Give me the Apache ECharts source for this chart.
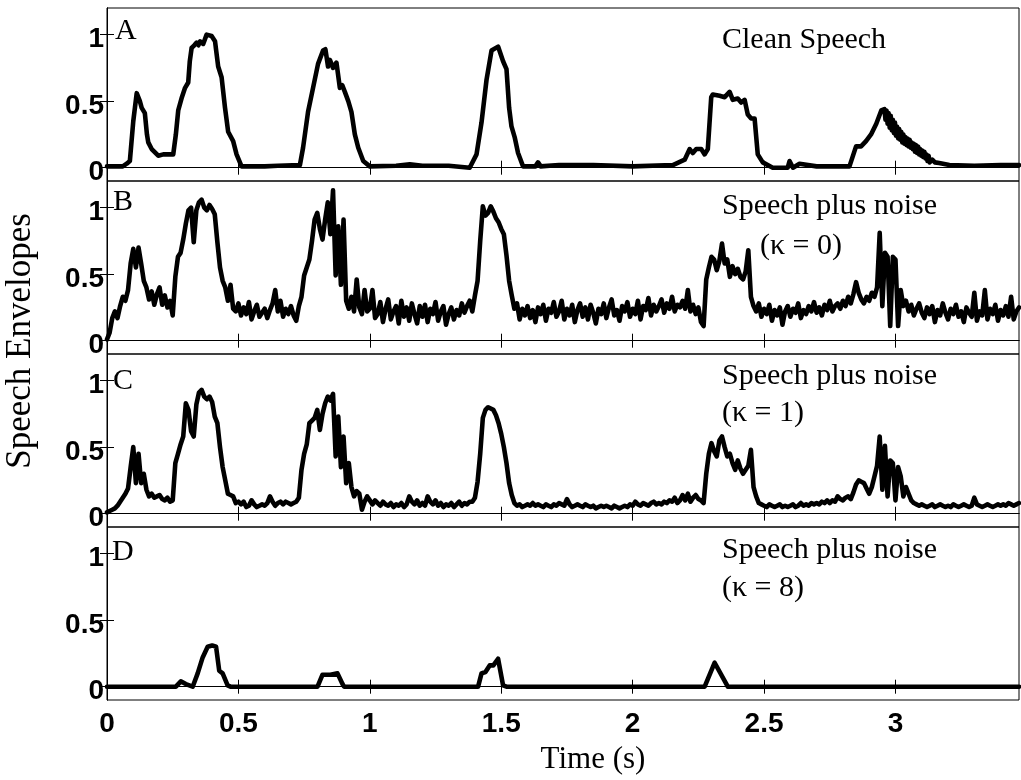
<!DOCTYPE html>
<html>
<head>
<meta charset="utf-8">
<script src="https://cdn.jsdelivr.net/npm/echarts@6/dist/echarts.min.js"></script>
<style>
html,body{margin:0;padding:0;background:#fff;}
#chart{width:1021px;height:780px;}
</style>
</head>
<body>
<div id="chart"></div>
<script>
// ---------- DATA ----------
const xTickValues = [0, 0.5, 1, 1.5, 2, 2.5, 3];
const yTickValues = [0, 0.5, 1];
const panelLetters = ['A', 'B', 'C', 'D'];
const panelTitles = ['Clean Speech', 'Speech plus noise', 'Speech plus noise', 'Speech plus noise'];
const panelSubtitles = ['', '(κ = 0)', '(κ = 1)', '(κ = 8)'];
const xAxisTitle = 'Time (s)';
const yAxisTitle = 'Speech Envelopes';
const sampleStep = 0.01; // seconds per sample for B and C

// Panel A: clean speech envelope (time, value)
const timesA = [
0,0.06,0.075,0.087,0.10,0.113,0.125,0.132,0.144,0.152,
0.157,0.17,0.195,0.214,0.252,0.262,0.271,0.285,0.297,0.309,
0.315,0.322,0.332,0.341,0.348,0.354,0.366,0.379,0.398,0.411,
0.423,0.436,0.449,0.461,0.48,0.493,0.512,0.60,0.65,0.734,
0.746,0.765,0.784,0.803,0.822,0.831,0.841,0.848,0.860,0.873,
0.886,0.895,0.905,0.918,0.930,0.943,0.956,0.975,1.0,1.10,
1.152,1.20,1.30,1.38,1.406,1.425,1.444,1.463,1.488,1.507,
1.520,1.530,1.539,1.551,1.564,1.583,1.63,1.640,1.65,1.72,
1.85,2.0,2.153,2.198,2.217,2.229,2.242,2.261,2.274,2.286,
2.299,2.305,2.331,2.350,2.369,2.381,2.400,2.413,2.426,2.438,
2.451,2.464,2.476,2.495,2.533,2.59,2.597,2.61,2.635,2.70,
2.825,2.850,2.869,2.888,2.907,2.927,2.946,2.958,2.962,2.966,
2.970,2.974,2.978,2.982,2.986,2.990,2.994,2.998,3.002,3.006,
3.010,3.014,3.018,3.022,3.026,3.030,3.034,3.038,3.042,3.046,
3.050,3.054,3.058,3.062,3.066,3.070,3.074,3.078,3.082,3.086,
3.090,3.094,3.098,3.102,3.106,3.110,3.114,3.118,3.122,3.126,
3.130,3.14,3.15,3.166,3.205,3.30,3.40,3.47
];
const valuesA = [
0.01,0.01,0.03,0.05,0.35,0.56,0.50,0.45,0.41,0.25,
0.19,0.14,0.09,0.10,0.10,0.25,0.43,0.53,0.60,0.64,
0.80,0.90,0.92,0.94,0.92,0.95,0.93,1.0,0.99,0.95,
0.76,0.68,0.45,0.27,0.20,0.10,0.01,0.01,0.015,0.02,
0.15,0.42,0.60,0.78,0.88,0.89,0.76,0.81,0.75,0.79,
0.60,0.62,0.57,0.50,0.42,0.25,0.15,0.05,0.01,0.015,
0.025,0.015,0.015,0.0,0.10,0.34,0.66,0.88,0.91,0.80,
0.74,0.45,0.31,0.23,0.11,0.01,0.01,0.04,0.01,0.02,
0.02,0.01,0.02,0.06,0.14,0.11,0.14,0.14,0.10,0.14,
0.53,0.55,0.54,0.53,0.57,0.51,0.52,0.49,0.51,0.40,
0.37,0.37,0.10,0.04,0.0,0.0,0.05,0.0,0.03,0.01,
0.01,0.16,0.16,0.20,0.25,0.33,0.43,0.44,0.36,0.43,
0.33,0.41,0.30,0.39,0.28,0.36,0.26,0.34,0.24,0.31,
0.22,0.29,0.21,0.27,0.19,0.25,0.18,0.23,0.17,0.22,
0.16,0.21,0.15,0.19,0.14,0.18,0.12,0.17,0.11,0.16,
0.10,0.14,0.09,0.13,0.08,0.12,0.07,0.10,0.05,0.09,
0.04,0.06,0.04,0.035,0.02,0.015,0.02,0.02
];

// Panel B: speech plus noise, kappa = 0 (sampled every 0.01 s)
const valuesB = [
0.01,0.06,0.17,0.22,0.17,0.26,0.33,0.30,0.38,0.58,
0.69,0.55,0.70,0.58,0.45,0.40,0.31,0.37,0.27,0.35,
0.40,0.27,0.34,0.25,0.30,0.19,0.48,0.63,0.66,0.76,
0.88,0.98,1.00,0.74,0.98,1.04,1.06,1.00,0.98,1.02,
0.99,0.95,0.74,0.55,0.45,0.40,0.30,0.42,0.24,0.22,
0.28,0.19,0.25,0.20,0.29,0.16,0.22,0.27,0.18,0.21,
0.24,0.17,0.23,0.28,0.38,0.22,0.30,0.18,0.24,0.20,
0.26,0.19,0.15,0.26,0.33,0.49,0.55,0.61,0.75,0.91,
0.96,0.84,0.76,0.91,1.04,0.80,1.13,0.49,0.86,0.42,
0.91,0.30,0.24,0.33,0.22,0.46,0.25,0.20,0.38,0.22,
0.24,0.38,0.17,0.20,0.29,0.14,0.24,0.31,0.16,0.22,
0.26,0.13,0.30,0.18,0.25,0.15,0.28,0.20,0.13,0.26,
0.18,0.27,0.14,0.24,0.20,0.29,0.15,0.22,0.26,0.12,
0.20,0.25,0.16,0.23,0.19,0.28,0.21,0.26,0.30,0.22,
0.34,0.45,0.75,1.01,0.94,0.96,1.01,0.97,0.92,0.89,
0.84,0.80,0.64,0.45,0.34,0.24,0.28,0.16,0.24,0.19,
0.26,0.17,0.23,0.14,0.25,0.20,0.27,0.15,0.24,0.21,
0.29,0.18,0.22,0.30,0.16,0.24,0.19,0.27,0.14,0.23,
0.28,0.18,0.25,0.16,0.27,0.21,0.13,0.24,0.20,0.28,
0.17,0.25,0.31,0.19,0.23,0.15,0.26,0.22,0.29,0.18,
0.24,0.20,0.30,0.16,0.26,0.23,0.32,0.19,0.27,0.22,
0.26,0.31,0.21,0.28,0.24,0.33,0.22,0.27,0.25,0.30,
0.24,0.38,0.22,0.27,0.20,0.25,0.14,0.11,0.46,0.55,
0.63,0.61,0.53,0.60,0.73,0.58,0.61,0.48,0.56,0.50,
0.54,0.48,0.46,0.52,0.68,0.33,0.26,0.22,0.28,0.18,
0.24,0.20,0.27,0.15,0.23,0.19,0.25,0.12,0.22,0.26,
0.18,0.24,0.21,0.28,0.17,0.23,0.20,0.26,0.22,0.29,
0.21,0.25,0.19,0.27,0.23,0.30,0.22,0.26,0.28,0.24,
0.30,0.26,0.33,0.28,0.35,0.44,0.36,0.31,0.28,0.33,
0.30,0.36,0.33,0.40,0.81,0.26,0.66,0.63,0.11,0.63,
0.61,0.11,0.38,0.26,0.30,0.22,0.27,0.19,0.24,0.28,
0.21,0.17,0.25,0.20,0.26,0.14,0.23,0.19,0.28,0.21,
0.16,0.24,0.20,0.27,0.18,0.22,0.14,0.25,0.21,0.18,
0.36,0.15,0.22,0.19,0.38,0.16,0.24,0.20,0.27,0.15,
0.23,0.19,0.26,0.18,0.33,0.16,0.22,0.25
];

// Panel C: speech plus noise, kappa = 1 (sampled every 0.01 s)
const valuesC = [
0.01,0.02,0.03,0.04,0.06,0.09,0.12,0.15,0.19,0.35,
0.50,0.23,0.45,0.23,0.30,0.18,0.13,0.15,0.12,0.13,
0.14,0.11,0.10,0.12,0.09,0.10,0.38,0.45,0.52,0.58,
0.83,0.78,0.62,0.58,0.82,0.91,0.93,0.88,0.86,0.88,
0.84,0.73,0.68,0.50,0.35,0.25,0.15,0.14,0.13,0.08,
0.09,0.07,0.09,0.05,0.06,0.10,0.07,0.05,0.06,0.07,
0.06,0.08,0.13,0.09,0.06,0.08,0.09,0.07,0.09,0.08,
0.07,0.08,0.09,0.12,0.33,0.45,0.52,0.68,0.70,0.72,
0.78,0.63,0.75,0.83,0.88,0.85,0.90,0.43,0.73,0.35,
0.58,0.23,0.38,0.20,0.13,0.17,0.15,0.03,0.09,0.13,
0.10,0.07,0.10,0.08,0.06,0.09,0.07,0.06,0.08,0.05,
0.07,0.06,0.08,0.05,0.07,0.13,0.09,0.07,0.10,0.06,
0.08,0.06,0.13,0.09,0.07,0.10,0.06,0.08,0.05,0.07,
0.06,0.08,0.05,0.07,0.09,0.06,0.08,0.07,0.09,0.09,
0.12,0.24,0.45,0.72,0.78,0.80,0.79,0.78,0.74,0.68,
0.60,0.50,0.38,0.23,0.14,0.08,0.06,0.07,0.05,0.06,
0.07,0.06,0.08,0.06,0.07,0.06,0.05,0.07,0.06,0.05,
0.07,0.06,0.08,0.07,0.06,0.11,0.07,0.05,0.06,0.07,
0.06,0.05,0.07,0.06,0.05,0.06,0.04,0.05,0.06,0.05,
0.06,0.05,0.04,0.06,0.05,0.04,0.05,0.06,0.05,0.07,
0.06,0.09,0.07,0.06,0.08,0.07,0.06,0.08,0.09,0.07,
0.08,0.07,0.09,0.08,0.10,0.09,0.12,0.08,0.10,0.14,
0.10,0.15,0.09,0.12,0.14,0.11,0.10,0.08,0.30,0.45,
0.53,0.47,0.43,0.55,0.58,0.50,0.43,0.45,0.38,0.33,
0.40,0.34,0.30,0.33,0.36,0.48,0.20,0.13,0.08,0.07,
0.06,0.05,0.07,0.06,0.05,0.06,0.07,0.05,0.06,0.05,
0.06,0.07,0.05,0.06,0.08,0.06,0.07,0.06,0.08,0.07,
0.08,0.07,0.09,0.08,0.10,0.08,0.10,0.09,0.13,0.11,
0.10,0.12,0.13,0.11,0.16,0.22,0.25,0.24,0.23,0.19,
0.15,0.20,0.28,0.36,0.58,0.18,0.51,0.13,0.40,0.38,
0.10,0.35,0.28,0.13,0.20,0.15,0.10,0.08,0.07,0.06,
0.07,0.06,0.05,0.06,0.07,0.05,0.06,0.07,0.06,0.05,
0.06,0.05,0.07,0.06,0.05,0.06,0.07,0.06,0.05,0.06,
0.12,0.07,0.06,0.05,0.06,0.07,0.06,0.05,0.06,0.07,
0.06,0.07,0.06,0.08,0.07,0.06,0.07,0.08
];

// Panel D: speech plus noise, kappa = 8 (time, value)
const timesD = [0,0.262,0.281,0.30,0.326,0.345,0.364,0.383,0.40,0.415,0.427,0.44,0.459,0.47,0.801,0.82,0.85,0.877,0.896,0.902,1.412,1.425,1.44,1.456,1.47,1.488,1.507,1.52,2.274,2.312,2.362,3.47];
const valuesD = [0,0,0.04,0.02,0.0,0.10,0.22,0.30,0.31,0.30,0.12,0.10,0.01,0,0,0.09,0.09,0.10,0.02,0,0,0.10,0.11,0.16,0.16,0.21,0.01,0,0,0.18,0,0];

// ---------- CHART ----------
const chart = echarts.init(document.getElementById('chart'), null, {renderer: 'canvas'});

const PANEL_TOP = 8, PANEL_H = 173, LEFT = 107, RIGHT = 2;
const SERIF = 'Liberation Serif';
const SANS = 'Liberation Sans';

const pairs = (ts, vs) => vs.map((v, i) => [ts[i], v]);
const sampled = (vs) => vs.map((v, i) => [Math.round(i * sampleStep * 1000) / 1000, v]);

const seriesData = [pairs(timesA, valuesA), sampled(valuesB), sampled(valuesC), pairs(timesD, valuesD)];

const grid = [], xAxis = [], yAxis = [], series = [], graphic = [];
const tickStyle = {inside: true, length: 7, lineStyle: {color: '#000', width: 1}};
const tickFont = {color: '#000', fontFamily: SANS, fontSize: 28, fontWeight: 'bold'};

for (let i = 0; i < 4; i++) {
  grid.push({left: LEFT, right: RIGHT, top: PANEL_TOP + PANEL_H * i, height: PANEL_H,
             show: true, borderColor: '#000', borderWidth: 1, backgroundColor: 'transparent'});
  const xBase = {type: 'value', gridIndex: i, min: 0, max: 3.47, splitLine: {show: false},
                 axisLine: {show: true, lineStyle: {color: '#000', width: 1}}};
  xAxis.push(Object.assign({}, xBase, {position: 'bottom',
    axisTick: Object.assign({customValues: xTickValues}, tickStyle),
    axisLabel: Object.assign({show: i === 3, customValues: xTickValues, margin: 10}, tickFont)}));
  xAxis.push(Object.assign({}, xBase, {position: 'top',
    axisTick: Object.assign({customValues: xTickValues}, tickStyle),
    axisLabel: {show: false}}));
  const yBase = {type: 'value', gridIndex: i, min: -0.1, max: 1.2, splitLine: {show: false},
                 axisLine: {show: true, lineStyle: {color: '#000', width: 1}}};
  yAxis.push(Object.assign({}, yBase, {position: 'left',
    axisTick: Object.assign({customValues: yTickValues}, tickStyle),
    axisLabel: Object.assign({show: true, customValues: yTickValues, margin: 3,
                              verticalAlign: 'top', lineHeight: 10}, tickFont)}));
  yAxis.push(Object.assign({}, yBase, {position: 'right',
    axisTick: Object.assign({customValues: yTickValues}, tickStyle),
    axisLabel: {show: false}}));
  series.push({type: 'line', xAxisIndex: 2 * i, yAxisIndex: 2 * i, data: seriesData[i],
               showSymbol: false, symbol: 'none', animation: false, silent: true,
               lineStyle: {color: '#000', width: 4.6, join: 'round', cap: 'round'}});
}

// panel letters
const letterTops = [16.6, 187.6, 366.6, 537.6];
const letterLefts = [115, 113, 113, 112];
for (let i = 0; i < 4; i++) {
  graphic.push({type: 'text', left: letterLefts[i], top: letterTops[i],
    style: {text: panelLetters[i], fill: '#000', font: '30px "' + SERIF + '"'}});
}
// annotations
const titleTops = [25, 191.5, 361.5, 535];
const subTops = [0, 231.5, 398, 573];
const subLefts = [0, 760, 722, 722];
for (let i = 0; i < 4; i++) {
  graphic.push({type: 'text', left: 722, top: titleTops[i],
    style: {text: panelTitles[i], fill: '#000', font: '30px "' + SERIF + '"'}});
  if (panelSubtitles[i]) {
    graphic.push({type: 'text', left: subLefts[i], top: subTops[i],
      style: {text: panelSubtitles[i], fill: '#000', font: '30px "' + SERIF + '"'}});
  }
}
// axis titles
graphic.push({type: 'text', x: 593, y: 760,
  style: {text: xAxisTitle, fill: '#000', font: '31px "' + SERIF + '"', align: 'center', verticalAlign: 'middle'}});
graphic.push({type: 'text', x: 21, y: 341, rotation: Math.PI / 2,
  style: {text: yAxisTitle, fill: '#000', font: '35px "' + SERIF + '"', align: 'center', verticalAlign: 'middle'}});

chart.setOption({animation: false, backgroundColor: '#fff', grid, xAxis, yAxis, series, graphic});
</script>
</body>
</html>
